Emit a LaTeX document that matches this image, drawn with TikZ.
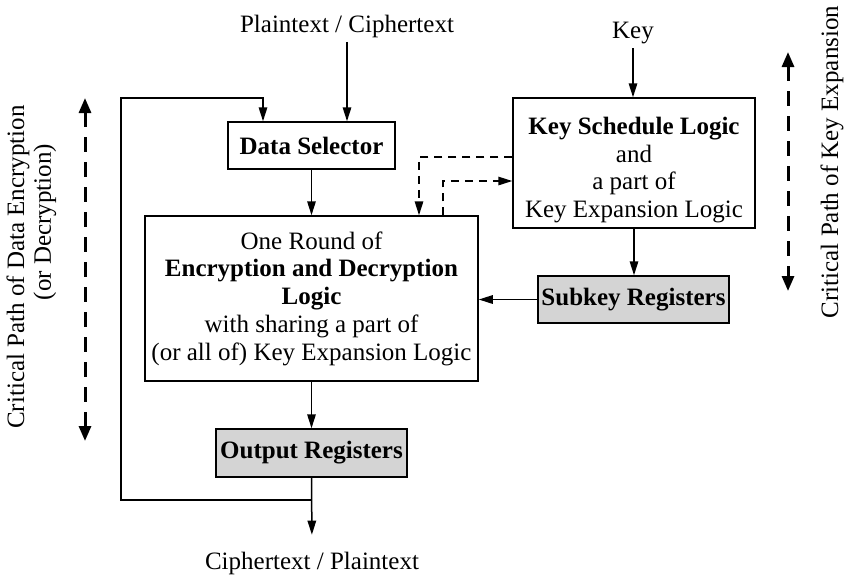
\documentclass[tikz,border=0pt]{standalone}
\usepackage{fontspec}
\setmainfont{Liberation Serif}
\usetikzlibrary{arrows.meta}

\begin{document}
\begin{tikzpicture}[x=0.4pt, y=-0.4pt, line width=0.6pt,
    every node/.style={font=\fontsize{10}{11.1}\selectfont, inner sep=1.5pt},
    block/.style={draw, align=center, inner sep=0pt},
    reg/.style={draw, fill=black!17, inner sep=0pt,
                font=\fontsize{10}{11.1}\selectfont\bfseries},
    arr/.style={-{Triangle[length=5.6pt,width=3.4pt]}},
    keyarr/.style={arr, dash pattern=on 3.2pt off 2.4pt},
    patharr/.style={{Triangle[length=6pt,width=4.8pt]}-{Triangle[length=6pt,width=4.8pt]},
                    line width=1.2pt, dash pattern=on 6pt off 4pt}]
  \useasboundingbox (0,0) rectangle (846,576);
  % inputs and output
  \node (ptxt) at (347,26) {Plaintext / Ciphertext};
  \node (key) at (633,33) {Key};
  \node (ctxt) at (312,563) {Ciphertext / Plaintext};
  % blocks
  \node[block, minimum width=66.8pt, minimum height=18.8pt,
        font=\fontsize{10}{11.1}\selectfont\bfseries] (ds) at (311.5,145.5) {Data Selector};
  \node[block, minimum width=96.8pt, minimum height=52pt] (ksl) at (634,163)
       {\rule{0pt}{12.5pt}\textbf{Key Schedule Logic}\\and\\a part of\\Key Expansion Logic};
  \node[block, minimum width=133.2pt, minimum height=66pt] (rnd) at (311.5,298.5)
       {One Round of\\\textbf{Encryption and Decryption}\\\textbf{Logic}\\with sharing a part of\\(or all of) Key Expansion Logic};
  \node[reg, minimum width=76.4pt, minimum height=18.8pt] (skr) at (633.5,299.5) {Subkey Registers};
  \node[reg, minimum width=76.4pt, minimum height=19.2pt] (outr) at (311.5,453) {Output Registers};
  % data flow
  \draw[arr] (ptxt) -- (ptxt |- ds.north);
  \draw[arr] (key) -- (key |- ksl.north);
  \draw[arr] (ds.south) -- (rnd.north);
  \draw[arr] (rnd.south) -- (outr.north);
  \draw[arr] (ksl.south) -- (ksl.south |- skr.north);
  \draw[arr] (skr.west) -- (skr.west -| rnd.east);
  \draw[arr, shorten >=5pt] (outr.south) -- (ctxt.north);
  % feedback loop
  \coordinate (fbj) at (311.5,500);
  \coordinate (fbl) at (121,98);
  \coordinate (fbin) at (263,0);
  \draw[arr] (fbj) -| (fbl) -| (fbin |- ds.north);
  % shared key expansion
  \coordinate (d1) at (419,157);
  \coordinate (d2) at (443,181);
  \draw[keyarr] (ksl.west |- d1) -| (d1 |- rnd.north);
  \draw[keyarr] (d2 |- rnd.north) |- (ksl.west |- d2);
  % critical paths
  \coordinate (ltop) at (85,98);
  \coordinate (lbot) at (85,441);
  \coordinate (rtop) at (788,52);
  \coordinate (rbot) at (788,291);
  \draw[patharr] (ltop) -- (lbot);
  \draw[patharr] (rtop) -- (rbot);
  \node[rotate=90] (cpd) at (18,267) {Critical Path of Data Encryption};
  \node[rotate=90] (cpd2) at (45,222) {(or Decryption)};
  \node[rotate=90] (cpk) at (832,162) {Critical Path of Key Expansion};
\end{tikzpicture}
\end{document}
